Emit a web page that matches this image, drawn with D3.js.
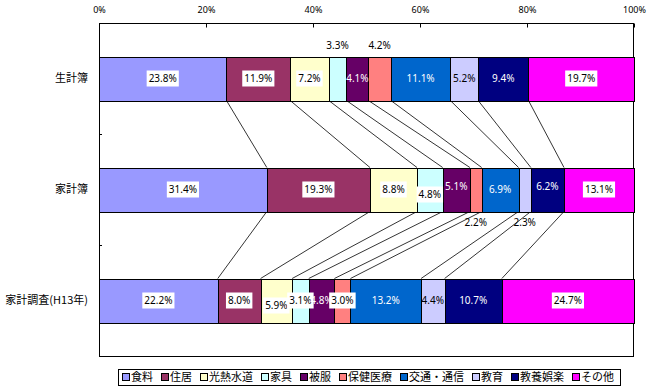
<!DOCTYPE html>
<html>
<head>
<meta charset="utf-8">
<script src="https://cdn.jsdelivr.net/npm/d3@7"></script>
<style>
  body { margin: 0; background: #fff; }
  svg { font-family: "Noto Sans CJK JP", "Noto Sans", sans-serif; }
</style>
</head>
<body>
<div class="chart-wrapper"></div>
<script>
// categories (rows) and expense items (stack order)
const categories = ['生計簿', '家計簿', '家計調査(H13年)'];
const items = ['食料', '住居', '光熱水道', '家具', '被服', '保健医療', '交通・通信', '教育', '教養娯楽', 'その他'];
const itemColors = ['#9999FF', '#993366', '#FFFFCC', '#CCFFFF', '#660066', '#FF8080', '#0066CC', '#CCCCFF', '#000080', '#FF00FF'];

// shares in %
const seikeibo = [23.8, 11.9, 7.2, 3.3, 4.1, 4.2, 11.1, 5.2, 9.4, 19.7];
const kakeibo = [31.4, 19.3, 8.8, 4.8, 5.1, 2.2, 6.9, 2.3, 6.2, 13.1];
const kakeiChosa = [22.2, 8.0, 5.9, 3.1, 4.8, 3.0, 13.2, 4.4, 10.7, 24.7];

const xTicks = [0, 20, 40, 60, 80, 100];

// label look: dark segments get white text, light lavender plain, others boxed
const whiteText = ['被服', '交通・通信', '教養娯楽'];
const plainText = ['教育'];
// labels Excel pushed outside the bar ('above' / 'below') or nudged
const outside = { '生計簿|家具': 'above', '生計簿|保健医療': 'above', '家計簿|保健医療': 'below', '家計簿|教育': 'below' };
const nudge = { '家計簿|家具': 5, '家計調査(H13年)|光熱水道': 5, '家計簿|被服': -3, '家計簿|教養娯楽': -3 };

const rows = [seikeibo, kakeibo, kakeiChosa];

const W = 649,
    H = 389,
    mLeft = 99, mRight = 634, mTop = 23, mBottom = 356,
    barH = 44;

const svg = d3.select('.chart-wrapper')
  .append('svg')
  .attr('width', W)
  .attr('height', H);

const x = d3.scaleLinear().domain([0, 100]).range([mLeft, mRight]);
const y = d3.scaleBand().domain(categories).range([mTop, mBottom]);
const color = d3.scaleOrdinal().domain(items).range(itemColors);

// build stacked (normalised to 100%) segments
const segs = [];
categories.forEach((c, i) => {
  const vals = rows[i];
  const total = d3.sum(vals);
  let acc = 0;
  vals.forEach((v, j) => {
    segs.push({ cat: c, item: items[j], v: v, x0: acc / total * 100, x1: (acc + v) / total * 100 });
    acc += v;
  });
});
const barTop = c => y(c) + (y.bandwidth() - barH) / 2;

// plot frame
svg.append('rect')
  .attr('x', mLeft + 0.5).attr('y', mTop + 0.5)
  .attr('width', mRight - mLeft - 1).attr('height', mBottom - mTop)
  .attr('fill', 'none').attr('stroke', '#000');

// top axis
const xAxis = d3.axisTop(x).tickValues(xTicks).tickFormat(d => d + '%')
  .tickSizeInner(-4).tickSizeOuter(0).tickPadding(11);
const gx = svg.append('g').attr('transform', `translate(0,${mTop + 0.5})`).call(xAxis);
gx.select('.domain').remove();
gx.selectAll('text').attr('font-size', 9).attr('fill', '#000').attr('font-family', '"Noto Sans", sans-serif');
gx.selectAll('line').attr('stroke', '#000');

// left axis ticks on band edges
svg.append('g').selectAll('line')
  .data(categories.slice(1))
  .join('line')
  .attr('x1', mLeft).attr('x2', mLeft + 3)
  .attr('y1', d => Math.round(y(d)) + 0.5).attr('y2', d => Math.round(y(d)) + 0.5)
  .attr('stroke', '#000');

svg.append('g').selectAll('text')
  .data(categories)
  .join('text')
  .attr('x', 88)
  .attr('y', d => y(d) + y.bandwidth() / 2)
  .attr('dy', '0.35em')
  .attr('text-anchor', 'end')
  .attr('font-size', 11)
  .text(d => d);

// series lines between bars
const links = [];
for (let i = 0; i < categories.length - 1; i++) {
  const a = segs.filter(s => s.cat === categories[i]);
  const b = segs.filter(s => s.cat === categories[i + 1]);
  for (let j = 0; j < items.length - 1; j++) {
    links.push({ xa: a[j].x1, ya: barTop(categories[i]) + barH, xb: b[j].x1, yb: barTop(categories[i + 1]) });
  }
}
svg.append('g').selectAll('line')
  .data(links)
  .join('line')
  .attr('x1', d => x(d.xa)).attr('y1', d => d.ya)
  .attr('x2', d => x(d.xb)).attr('y2', d => d.yb)
  .attr('stroke', '#000').attr('stroke-width', 0.8);

// bars
svg.append('g').selectAll('rect')
  .data(segs)
  .join('rect')
  .attr('x', d => Math.round(x(d.x0)) + 0.5)
  .attr('y', d => Math.round(barTop(d.cat)) + 0.5)
  .attr('width', d => Math.round(x(d.x1)) - Math.round(x(d.x0)))
  .attr('height', barH)
  .attr('fill', d => color(d.item))
  .attr('stroke', '#000');

// data labels
const lbl = svg.append('g').selectAll('g')
  .data(segs)
  .join('g')
  .attr('transform', d => {
    const key = d.cat + '|' + d.item;
    let cy = barTop(d.cat) + barH / 2;
    if (outside[key] === 'above') cy = barTop(d.cat) - 11;
    if (outside[key] === 'below') cy = barTop(d.cat) + barH + 11;
    cy += nudge[key] || 0;
    return `translate(${x((d.x0 + d.x1) / 2)},${cy})`;
  });

lbl.append('text')
  .attr('text-anchor', 'middle')
  .attr('dy', '0.35em')
  .attr('font-size', 10)
  .attr('font-family', '"Noto Sans", sans-serif')
  .attr('fill', d => whiteText.includes(d.item) && !outside[d.cat + '|' + d.item] ? '#fff' : '#000')
  .text(d => d.v.toFixed(1) + '%');

lbl.each(function (d) {
  const key = d.cat + '|' + d.item;
  if (outside[key] || whiteText.includes(d.item) || plainText.includes(d.item)) return;
  const g = d3.select(this);
  const w = g.select('text').node().getComputedTextLength();
  g.insert('rect', 'text')
    .attr('x', -w / 2 - 2).attr('y', -8)
    .attr('width', w + 4).attr('height', 16)
    .attr('fill', '#fff');
});

// legend
const leg = svg.append('g').attr('transform', 'translate(118,369)');
const legBox = leg.append('rect')
  .attr('x', 0.5).attr('y', 0.5).attr('height', 16)
  .attr('fill', '#fff').attr('stroke', '#000');
let lx = 4;
items.forEach((name, i) => {
  const g = leg.append('g').attr('transform', `translate(${lx},0)`);
  g.append('rect')
    .attr('x', 0.5).attr('y', 4.5).attr('width', 7).attr('height', 7)
    .attr('fill', itemColors[i]).attr('stroke', '#000');
  const t = g.append('text')
    .attr('x', 9).attr('y', 8.5).attr('dy', '0.35em')
    .attr('font-size', 11)
    .text(name);
  lx += 9 + t.node().getComputedTextLength() + 8;
});
legBox.attr('width', lx - 2);
</script>
</body>
</html>
